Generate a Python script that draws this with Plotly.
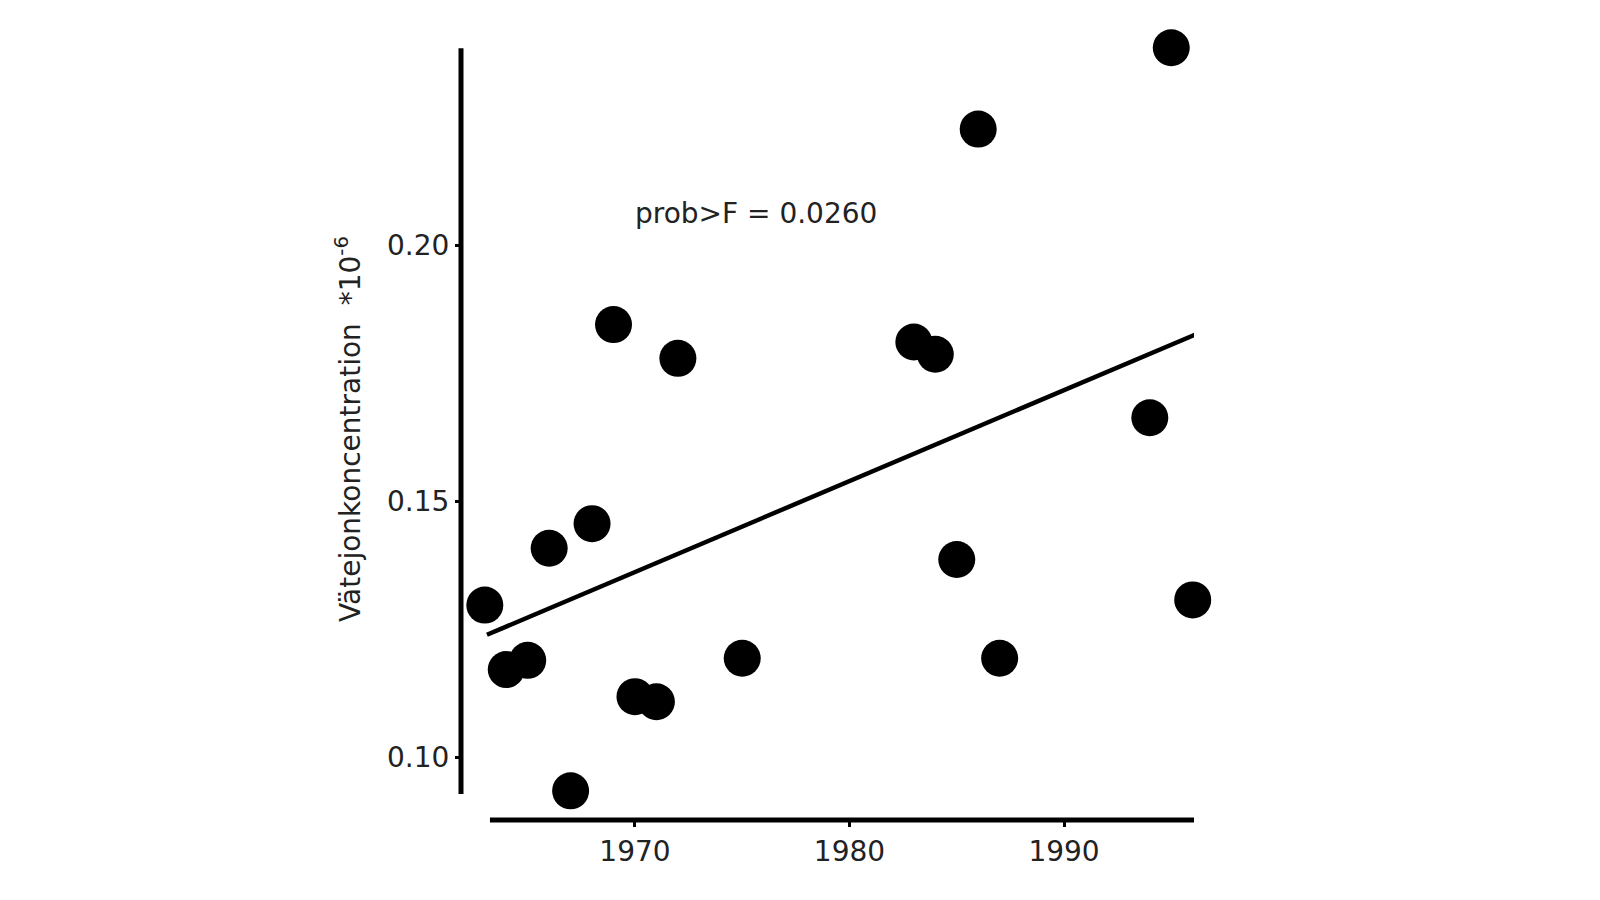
import plotly.graph_objects as go

# Data
years = [1963, 1964, 1965, 1966, 1967, 1968, 1969, 1970, 1971, 1972,
         1975, 1983, 1984, 1985, 1986, 1987, 1994, 1995, 1996]
values = [0.1297, 0.1171, 0.1189, 0.1408, 0.0934, 0.1456, 0.1845, 0.1118, 0.1108, 0.1779,
          0.1193, 0.1811, 0.1787, 0.1386, 0.2227, 0.1193, 0.1663, 0.2386, 0.1307]

fit_years = [1963.1, 1996.2]
fit_values = [0.1239, 0.1827]

y_ticks = [0.10, 0.15, 0.20]
y_ticklabels = ["0.10", "0.15", "0.20"]
x_ticks = [1970, 1980, 1990]
x_ticklabels = ["1970", "1980", "1990"]

FONT = "DejaVu Sans"
FS = 28

fig = go.Figure()
fig.add_trace(go.Scatter(
    x=years, y=values, mode="markers",
    marker=dict(color="black", size=37, line=dict(width=0)),
    showlegend=False, cliponaxis=False,
))
fig.add_trace(go.Scatter(
    x=fit_years, y=fit_values, mode="lines",
    line=dict(color="black", width=4.5),
    showlegend=False, cliponaxis=False,
))

# plot area: y range top extended slightly so the highest point is kept
y_top = 0.2405
fig.update_layout(
    width=1600, height=900,
    paper_bgcolor="white", plot_bgcolor="white",
    margin=dict(l=453, r=414, t=30, b=88),
    font=dict(family=FONT, color="#222222", size=FS),
    xaxis=dict(
        range=[1961.89, 1996.06], showgrid=False, zeroline=False, showline=False,
        tickmode="array", tickvals=x_ticks, ticktext=x_ticklabels,
        ticks="outside", ticklen=6, tickwidth=3, tickcolor="black",
        tickfont=dict(family=FONT, size=FS, color="#222222"),
    ),
    yaxis=dict(
        range=[0.0877, y_top], showgrid=False, zeroline=False, showline=False,
        tickmode="array", tickvals=y_ticks, ticktext=y_ticklabels,
        ticks="outside", ticklen=5, tickwidth=3, tickcolor="black",
        tickfont=dict(family=FONT, size=FS, color="#222222"),
        title=dict(text="Vätejonkoncentration  *10<sup>-6</sup>",
                   font=dict(family=FONT, size=FS, color="#222222"), standoff=18),
    ),
    shapes=[
        dict(type="line", xref="paper", x0=0, x1=0, yref="y", y0=0.0928, y1=0.2385,
             line=dict(color="black", width=5)),
        dict(type="line", xref="x", x0=1963.24, x1=1996.06, yref="paper", y0=0, y1=0,
             line=dict(color="black", width=5)),
    ],
    annotations=[
        dict(x=1969.9, y=0.2063, xref="x", yref="y", xanchor="left", yanchor="middle",
             text="prob>F = 0.0260", showarrow=False,
             font=dict(family=FONT, size=FS, color="#222222")),
    ],
)

fig.write_html("out.html")
